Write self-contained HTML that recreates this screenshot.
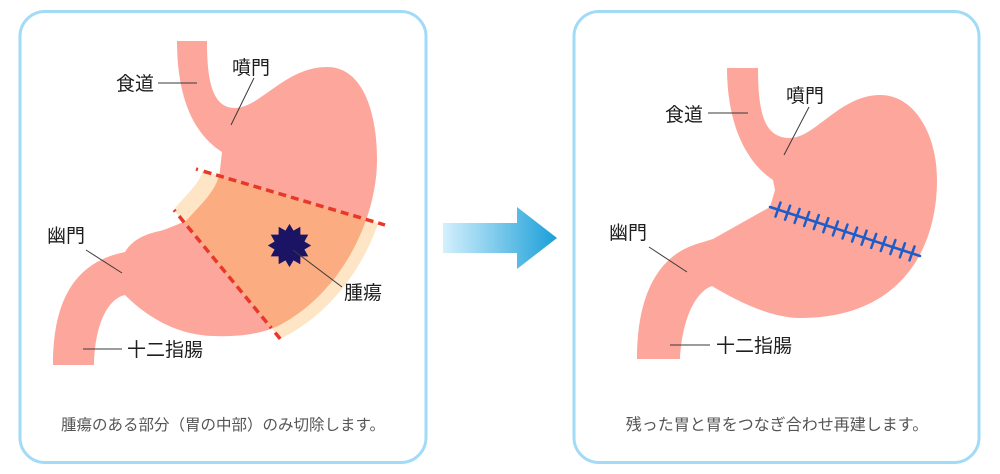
<!DOCTYPE html>
<html><head><meta charset="utf-8"><style>
html,body{margin:0;padding:0;background:#fff;}
svg{display:block;}
text{font-family:"Liberation Sans","Noto Sans CJK JP",sans-serif;}
.lb{font-size:19px;fill:#1e1e1e;}
.cap{font-size:15.5px;fill:#555;}
.ln{stroke:#3a3a3a;stroke-width:1;fill:none;}
</style></head><body>
<svg width="1000" height="474" viewBox="0 0 1000 474" xmlns="http://www.w3.org/2000/svg">
<defs>
<linearGradient id="ag" x1="443" y1="0" x2="557" y2="0" gradientUnits="userSpaceOnUse">
<stop offset="0" stop-color="#d4f0fc"/><stop offset="1" stop-color="#1a9fd9"/>
</linearGradient>
<clipPath id="mid"><polygon points="196,169 385,225 470,251 470,470 330,399 282,341 174,210"/></clipPath>
<path id="stL" d="M177,41 L207,41 C207,80 212,108 235,108 C260,108 285,67 327,67 C362,67 377,110 377,160 C377,215 345,290 280,325 C260,335 235,337 213,336 C180,335 150,320 125,295 C110,298 95,320 94,365 L53,365 C53,300 75,262 125,252 C132,240 145,234 160,231 C170,228 178,224 186,221 C200,205 218,190 220,170 L222,152 C195,135 177,100 177,41 Z"/>
</defs>

<rect x="20" y="11.5" width="406" height="451" rx="25" fill="#fff" stroke="#a2dbf6" stroke-width="3"/>
<rect x="574" y="11.5" width="405" height="451" rx="25" fill="#fff" stroke="#a2dbf6" stroke-width="3"/>

<!-- Left stomach -->
<use href="#stL" fill="#fda69b"/>
<g clip-path="url(#mid)">
<use href="#stL" fill="#fde5c5" stroke="#fde5c5" stroke-width="25" stroke-linejoin="round"/>
<path d="M222,152 L220,170 C218,190 200,205 186,221" fill="none" stroke="#fde5c5" stroke-width="34" stroke-linecap="round"/>
<use href="#stL" fill="#fbac80"/>
</g>
<line x1="196" y1="169" x2="385" y2="225" stroke="#e8382a" stroke-width="3.5" stroke-dasharray="2 6 8 5 8 5 8 5 8 5 8 5 8 5 8 5 8 5 8 5 8 5 8 5 8 5 8 5 8 5 8 5"/>
<line x1="174" y1="210" x2="282" y2="341" stroke="#e8382a" stroke-width="3.5" stroke-dasharray="2 6 8 5 8 5 8 5 8 5 8 5 8 5 8 5 8 5 8 5 8 5 8 5"/>
<polygon fill="#1b1464" transform="translate(289.5,245.5) scale(1.03) translate(-289,-245)" points="289,224 292.9,230.5 299.5,226.8 299.6,234.4 307.2,234.5 303.5,241.1 310,245 303.5,248.9 307.2,255.5 299.6,255.6 299.5,263.2 292.9,259.5 289,266 285.1,259.5 278.5,263.2 278.4,255.6 270.8,255.5 274.5,248.9 268,245 274.5,241.1 270.8,234.5 278.4,234.4 278.5,226.8 285.1,230.5"/>

<line class="ln" x1="158" y1="83" x2="197" y2="83"/>
<line class="ln" x1="254" y1="78" x2="231" y2="125"/>
<line class="ln" x1="86" y1="250" x2="122" y2="273"/>
<line class="ln" x1="83" y1="349" x2="122" y2="349"/>
<line class="ln" x1="293" y1="250" x2="342" y2="287"/>

<text class="lb" x="116" y="90">食道</text>
<text class="lb" x="232" y="74">噴門</text>
<text class="lb" x="47" y="242">幽門</text>
<text class="lb" x="127" y="356">十二指腸</text>
<text class="lb" x="344" y="299">腫瘍</text>
<text class="cap" x="223" y="430" text-anchor="middle">腫瘍のある部分（胃の中部）のみ切除します。</text>

<!-- Arrow -->
<polygon fill="url(#ag)" points="443,223 517,223 517,207 557,238 517,269 517,253 443,253"/>

<!-- Right stomach -->
<path fill="#fda69b" d="M727,68 L758,68 C758,115 765,138 790,138 C815,138 840,95 880,95 C915,95 937,135 937,180 C937,250 900,318 800,318 C770,318 735,300 712,286 C695,292 682,320 680,359 L637,359 C637,300 655,255 700,243 L713,239 L770,207 L775,190 L773,180 C750,165 727,130 727,68 Z"/>
<g stroke="#1e5cc8" stroke-width="2.5" fill="none" stroke-linecap="round">
<line x1="770" y1="207" x2="920" y2="256"/>
<path d="M780.5,202.6 l-5,14 M790.1,205.7 l-5,14 M799.6,208.9 l-5,14 M809.2,212 l-5,14 M818.8,215.1 l-5,14 M828.3,218.2 l-5,14 M837.9,221.4 l-5,14 M847.5,224.5 l-5,14 M857.1,227.6 l-5,14 M866.6,230.7 l-5,14 M876.2,233.9 l-5,14 M885.8,237 l-5,14 M895.4,240.1 l-5,14 M904.9,243.3 l-5,14 M914.5,246.4 l-5,14"/>
</g>

<line class="ln" x1="708" y1="113" x2="748" y2="113"/>
<line class="ln" x1="809" y1="107" x2="784" y2="155"/>
<line class="ln" x1="649" y1="247" x2="687" y2="272"/>
<line class="ln" x1="670" y1="345" x2="710" y2="345"/>

<text class="lb" x="665" y="121">食道</text>
<text class="lb" x="786" y="102">噴門</text>
<text class="lb" x="609" y="239">幽門</text>
<text class="lb" x="716" y="352">十二指腸</text>
<text class="cap" x="777" y="430" text-anchor="middle" style="font-size:16px">残った胃と胃をつなぎ合わせ再建します。</text>
</svg>
</body></html>
